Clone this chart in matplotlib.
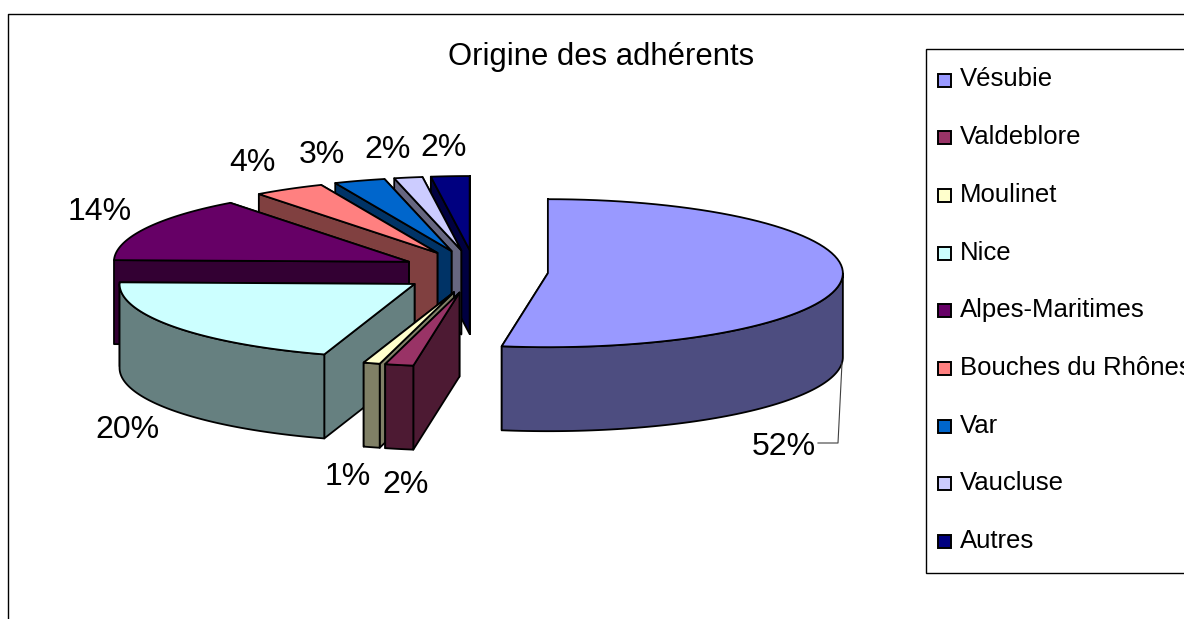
import numpy as np
import matplotlib
matplotlib.use("Agg")
import matplotlib.pyplot as plt
from matplotlib.patches import Polygon, Rectangle

plt.rcParams['font.family'] = ['Liberation Sans', 'DejaVu Sans']

title = "Origine des adhérents"
categories = ["Vésubie", "Valdeblore", "Moulinet", "Nice", "Alpes-Maritimes",
              "Bouches du Rhônes", "Var", "Vaucluse", "Autres"]
values = [52.5, 1.55, 0.9, 20.4, 14.3, 3.9, 2.8, 1.55, 2.1]
pct_labels = ["52%", "2%", "1%", "20%", "14%", "4%", "3%", "2%", "2%"]
colors = ["#9999FF", "#993366", "#FFFFCC", "#CCFFFF", "#660066",
          "#FF8080", "#0066CC", "#CCCCFF", "#000080"]

# where the percent labels sit, in pixels
label_x = [784, 406, 348, 127, 100, 252, 322, 388, 444]
label_y = [447, 485, 477, 430, 212, 163, 155, 150, 148]

# pie projection, in pixels
cx, cy = 474.5, 271.5
rx, ry = 295, 74
depth = 84
explode_x, explode_y = 73.6, 21.5
lw = 1.3


def shade(c):
    return tuple(v * 0.5 for v in matplotlib.colors.to_rgb(c))


def rim_point(apex, t):
    return np.column_stack([apex[0] + rx * np.sin(t), apex[1] - ry * np.cos(t)])


def down(pts):
    return pts + np.array([0, depth])


fig = plt.figure(figsize=(11.84, 6.19), dpi=100)
ax = fig.add_axes([0, 0, 1, 1])
ax.set_xlim(0, 1184)
ax.set_ylim(619, 0)
ax.axis("off")

# chart frame, open at the right and the bottom like the cropped original
ax.plot([8, 8, 1184], [619, 14, 14], color="black", lw=1.0)

ax.text(601, 57, title, fontsize=22.3, ha="center", va="center")

angles = np.cumsum([0] + values) / sum(values) * 2 * np.pi
order = list(range(len(values)))[::-1]

for i in order:
    t0, t1 = angles[i], angles[i + 1]
    mid = (t0 + t1) / 2
    apex = np.array([cx + explode_x * np.sin(mid), cy - explode_y * np.cos(mid)])
    t = np.linspace(t0, t1, 80)
    edge = rim_point(apex, t)
    side = shade(colors[i])

    # hidden cut face first, then the one that looks at the viewer
    for tc in (t1, t0):
        p = rim_point(apex, np.array([tc]))[0]
        quad = [apex, p, p + [0, depth], apex + [0, depth]]
        ax.add_patch(Polygon(quad, closed=True, fc=side, ec="black", lw=lw, joinstyle="round"))

    # front part of the outer wall
    ta, tb = max(t0, np.pi / 2), min(t1, 3 * np.pi / 2)
    if ta < tb:
        wall = rim_point(apex, np.linspace(ta, tb, 80))
        ax.add_patch(Polygon(np.vstack([wall, down(wall)[::-1]]), closed=True,
                             fc=side, ec="black", lw=lw, joinstyle="round"))

    ax.add_patch(Polygon(np.vstack([apex, edge]), closed=True,
                         fc=colors[i], ec="black", lw=lw, joinstyle="round"))

for s, x, y in zip(pct_labels, label_x, label_y):
    ax.text(x, y, s, fontsize=23, ha="center", va="center")

# leader line of the big slice
ax.plot([842, 838, 818], [363, 443, 443], color="#404040", lw=0.8)

# legend box, runs past the right edge and cuts the long name as in the reference
ax.add_patch(Rectangle((926, 49), 300, 524, fc="white", ec="black", lw=1.0))
for i, name in enumerate(categories):
    y = 78 + 57.7 * i
    ax.add_patch(Rectangle((938, y - 4.5), 13, 13, fc=colors[i], ec="black", lw=1.4))
    ax.text(960, y + 1.5, name, fontsize=18.5, ha="left", va="center")

fig.savefig("out.png", dpi=100)
